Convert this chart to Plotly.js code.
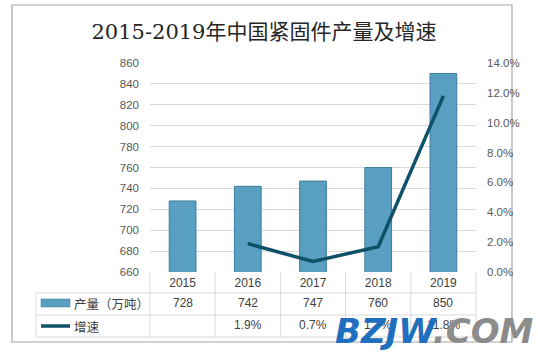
<!DOCTYPE html>
<html>
<head>
<meta charset="utf-8">
<script src="https://cdn.plot.ly/plotly-3.0.1.min.js"></script>
<style>html,body{margin:0;padding:0;background:#fff;}#chart{width:538px;height:353px;}</style>
</head>
<body>
<div id="chart"></div>
<script>
// ---- data ----
const years = ['2015', '2016', '2017', '2018', '2019'];
const output = [728, 742, 747, 760, 850];          // 产量（万吨）
const growth = [null, 1.9, 0.7, 1.7, 11.8];        // 增速 (%)
const seriesNames = ['产量（万吨）', '增速'];
const titleText = '2015-2019年中国紧固件产量及增速';

// ---- geometry helpers (pixel -> paper) ----
const W = 538, H = 353;
const L = 150, R = 476, T = 63, B = 272;
const pw = R - L, ph = B - T;
const px = x => (x - L) / pw;
const py = y => (B - y) / ph;

const barColor = '#599fc2';
const barLine = '#3f7d9e';
const lineColor = '#0e5169';
const gridC = '#d9d9d9';
const txtC = '#404040';
const tickC = '#595959';

const traces = [
  {
    type: 'bar', x: years, y: output, name: seriesNames[0],
    marker: {color: barColor, line: {color: barLine, width: 1}},
    width: 0.41, hoverinfo: 'x+y'
  },
  {
    type: 'scatter', mode: 'lines', x: years.slice(1), y: growth.slice(1),
    name: seriesNames[1], yaxis: 'y2',
    line: {color: lineColor, width: 3.5}
  }
];

const shapes = [];
const annotations = [];
// outer frame
shapes.push({type: 'rect', xref: 'paper', yref: 'paper', x0: px(12), x1: px(512), y0: py(342), y1: py(5),
  line: {color: '#a6a6a6', width: 1.2}, layer: 'below'});
// table horizontal lines
[293, 315, 337].forEach(yy => shapes.push({type: 'line', xref: 'paper', yref: 'paper',
  x0: px(36), x1: px(476), y0: py(yy), y1: py(yy), line: {color: gridC, width: 1}}));
// left vertical line of label column
shapes.push({type: 'line', xref: 'paper', yref: 'paper', x0: px(36), x1: px(36), y0: py(293), y1: py(337),
  line: {color: gridC, width: 1}});
// category vertical lines
for (let i = 0; i <= years.length; i++) {
  shapes.push({type: 'line', xref: 'paper', yref: 'paper', x0: i / years.length, x1: i / years.length,
    y0: py(272), y1: py(337), line: {color: gridC, width: 1}});
}
// legend keys
shapes.push({type: 'rect', xref: 'paper', yref: 'paper', x0: px(41), x1: px(70), y0: py(307), y1: py(299),
  fillcolor: barColor, line: {color: barLine, width: 0.5}});
shapes.push({type: 'line', xref: 'paper', yref: 'paper', x0: px(41), x1: px(70), y0: py(326), y1: py(326),
  line: {color: lineColor, width: 3.5}});

annotations.push({xref: 'paper', yref: 'paper', x: px(72), y: py(303), xanchor: 'left', yanchor: 'middle',
  text: seriesNames[0], showarrow: false, font: {family: 'Noto Sans CJK SC', size: 12.5, color: txtC}});
annotations.push({xref: 'paper', yref: 'paper', x: px(72), y: py(326), xanchor: 'left', yanchor: 'middle',
  text: seriesNames[1], showarrow: false, font: {family: 'Noto Sans CJK SC', size: 12.5, color: txtC}});

// table values
years.forEach((yr, i) => {
  const cx = (i + 0.5) / years.length;
  annotations.push({xref: 'paper', yref: 'paper', x: cx, y: py(303), xanchor: 'center', yanchor: 'middle',
    showarrow: false, text: String(output[i]), font: {family: 'Liberation Sans', size: 12, color: txtC}});
  if (growth[i] !== null) {
    annotations.push({xref: 'paper', yref: 'paper', x: cx, y: py(325), xanchor: 'center', yanchor: 'middle',
      showarrow: false, text: growth[i].toFixed(1) + '%', font: {family: 'Liberation Sans', size: 12, color: txtC}});
  }
});

// watermark (overlays the table as in the reference)
annotations.push({xref: 'paper', yref: 'paper', x: px(333), y: py(331), xanchor: 'left', yanchor: 'middle',
  showarrow: false,
  text: '<b><i><span style="color:#1f6fbe">BZJW</span><span style="color:#8c8c8c">.COM</span></i></b>',
  font: {family: 'DejaVu Sans', size: 34}});

const layout = {
  width: W, height: H,
  margin: {l: L, r: W - R, t: T, b: H - B, pad: 0},
  paper_bgcolor: '#ffffff', plot_bgcolor: '#ffffff',
  showlegend: false,
  title: {text: titleText, x: 264 / W, xanchor: 'center', y: 1 - 32 / H, yanchor: 'middle',
    font: {family: 'DejaVu Serif, Noto Sans CJK SC', size: 21, color: '#262626'}},
  bargap: 0.59,
  xaxis: {type: 'category', showgrid: false, zeroline: false, showline: false, ticks: '',
    tickfont: {family: 'Liberation Sans', size: 12, color: txtC}, ticklabelstandoff: 2,
    range: [-0.5, 4.5], fixedrange: true},
  yaxis: {range: [660, 860], dtick: 20, tick0: 660, showgrid: true, gridcolor: gridC, gridwidth: 1,
    zeroline: false, showline: false, ticks: '', ticklabelstandoff: 10,
    tickfont: {family: 'Liberation Sans', size: 11.5, color: tickC}},
  yaxis2: {overlaying: 'y', side: 'right', range: [0, 14], dtick: 2, tick0: 0, tickformat: '.1f', ticksuffix: '%',
    showgrid: false, zeroline: false, showline: false, ticks: '', ticklabelstandoff: 10,
    tickfont: {family: 'Liberation Sans', size: 11.5, color: tickC}},
  shapes: shapes,
  annotations: annotations
};

Plotly.newPlot('chart', traces, layout, {displayModeBar: false, staticPlot: true});
</script>
</body>
</html>
